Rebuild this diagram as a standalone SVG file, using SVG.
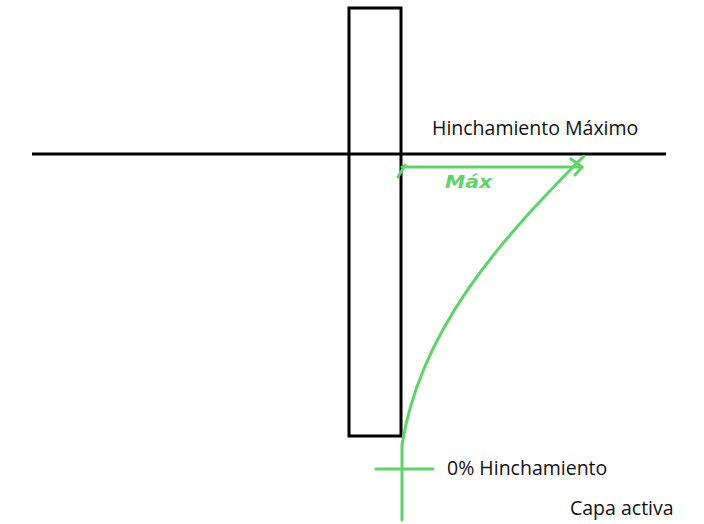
<svg xmlns="http://www.w3.org/2000/svg" width="704" height="524" viewBox="0 0 704 524">
<style>
.blk{stroke:#000;stroke-width:3;fill:none}
.grn{stroke:#5fd36a;stroke-width:3;fill:none;stroke-linecap:round;stroke-linejoin:round}
.lbl{font-family:"Open Sans","Liberation Sans",sans-serif;font-size:19.5px;fill:#111}
</style>
<rect width="704" height="524" fill="#fff"/>
<g id="axis"><line class="blk" x1="32" y1="154" x2="666" y2="154"/></g>
<g id="pile"><rect class="blk" x="349" y="8" width="52" height="428"/></g>
<g id="connectors">
<line class="grn" x1="402" y1="167" x2="582" y2="167"/>
<line class="grn" x1="405" y1="165" x2="398" y2="177"/>
<polyline class="grn" points="571,159 582,167 575,175"/>
<path class="grn" d="M 584 156 C 500 240, 420 330, 402 445 L 402 520"/>
<line class="grn" x1="376" y1="469" x2="433" y2="469"/>
</g>
<g id="labels">
<text class="lbl" x="432" y="135">Hinchamiento Máximo</text>
<text x="445" y="188" font-family="'DejaVu Sans',sans-serif" font-size="17" font-style="italic" font-weight="bold" fill="#5fd36a" textLength="47" lengthAdjust="spacingAndGlyphs">Máx</text>
<text class="lbl" x="447" y="475">0% Hinchamiento</text>
<text class="lbl" x="570" y="515">Capa activa</text>
</g>
</svg>
